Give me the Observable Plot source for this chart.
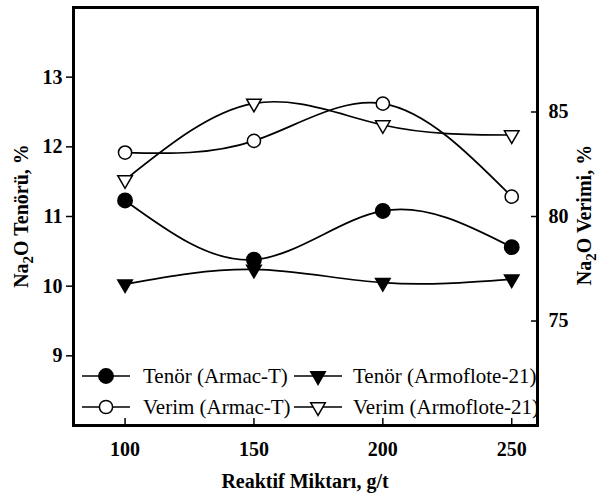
<!DOCTYPE html>
<html><head><meta charset="utf-8">
<script src="https://cdn.jsdelivr.net/npm/d3@7"></script>
<script src="https://cdn.jsdelivr.net/npm/@observablehq/plot@0.6"></script>
<style>
html,body{margin:0;padding:0;background:#fff}
#chart{position:relative;width:599px;height:497px}
</style>
</head><body><div id="chart"></div>
<script>
// ---- data ----
const doses = [100, 150, 200, 250];
const tenorArmac = [11.23, 10.38, 11.08, 10.56];
const tenorArmoflote = [10.03, 10.24, 10.05, 10.10];
const verimArmac = [83.06, 83.62, 85.40, 80.95];
const verimArmoflote = [81.75, 85.41, 84.38, 83.90];
const seriesNames = ["Tenör (Armac-T)", "Verim (Armac-T)", "Tenör (Armoflote-21)", "Verim (Armoflote-21)"];
const xTicks = [100, 150, 200, 250];
const leftTicks = [9, 10, 11, 12, 13];
const rightTicks = [75, 80, 85];
const xDomain = [80, 260];
const leftDomain = [8, 14];
const rightDomain = [70, 90];
const xLabel = "Reaktif Miktarı, g/t";
const leftLabel = ["Na", "2", "O Tenörü, %"];
const rightLabel = ["Na", "2", "O Verimi, %"];

// ---- helpers ----
const toLeft = v => leftDomain[0] + (v - rightDomain[0]) * (leftDomain[1] - leftDomain[0]) / (rightDomain[1] - rightDomain[0]);
const fromLeft = v => rightDomain[0] + (v - leftDomain[0]) * (rightDomain[1] - rightDomain[0]) / (leftDomain[1] - leftDomain[0]);

const triangleDown = {
  draw(context, size) {
    const y = -Math.sqrt(size / (Math.sqrt(3) * 3));
    context.moveTo(0, -2 * y);
    context.lineTo(Math.sqrt(3) * y, y);
    context.lineTo(-Math.sqrt(3) * y, y);
    context.closePath();
  }
};

const series = [
  {name: seriesNames[0], values: tenorArmac, right: false, symbol: "circle", fill: "black", r: 7.2},
  {name: seriesNames[1], values: verimArmac, right: true, symbol: "circle", fill: "white", r: 6.6},
  {name: seriesNames[2], values: tenorArmoflote, right: false, symbol: triangleDown, fill: "black", r: 5.4},
  {name: seriesNames[3], values: verimArmoflote, right: true, symbol: triangleDown, fill: "white", r: 5.4}
];
const rows = series.map(s => doses.map((d, i) => ({dose: d, y: s.right ? toLeft(s.values[i]) : s.values[i]})));

const FONT = "'Liberation Serif', 'Times New Roman', Times, serif";

const marks = [];
series.forEach((s, k) => {
  marks.push(Plot.line(rows[k], {x: "dose", y: "y", curve: "natural", stroke: "black", strokeWidth: 1.7}));
});
series.forEach((s, k) => {
  marks.push(Plot.dot(rows[k], {x: "dose", y: "y", r: s.r, symbol: s.symbol, fill: s.fill, stroke: "black", strokeWidth: 1.5}));
});
marks.push(
  Plot.axisY(leftTicks, {anchor: "left", tickSize: 7, tickPadding: 4, label: null, tickFormat: d => String(d), fontSize: 20, fontWeight: "bold", strokeWidth: 1.5}),
  Plot.axisY(rightTicks.map(toLeft), {anchor: "right", tickSize: -7, tickPadding: 18, label: null, tickFormat: d => String(Math.round(fromLeft(d))), fontSize: 20, fontWeight: "bold", strokeWidth: 1.5}),
  Plot.axisX(xTicks, {anchor: "bottom", tickSize: -7, tickPadding: 23, label: null, tickFormat: d => String(d), fontSize: 20, fontWeight: "bold", strokeWidth: 1.5}),
  Plot.frame({stroke: "black", strokeWidth: 3})
);

const plot = Plot.plot({
  width: 599,
  height: 497,
  marginLeft: 73,
  marginRight: 62,
  marginTop: 7,
  marginBottom: 72,
  x: {domain: xDomain, axis: null},
  y: {domain: leftDomain, axis: null},
  style: {fontFamily: FONT, fontSize: "20px", color: "black", background: "white"},
  marks
});
document.getElementById("chart").appendChild(plot);

const svg = d3.select(plot);

// axis titles
function rotatedLabel(parts, x, y) {
  const t = svg.append("text")
    .attr("transform", `translate(${x},${y}) rotate(-90)`)
    .attr("text-anchor", "middle")
    .attr("font-family", FONT).attr("font-size", 20).attr("font-weight", "bold").attr("fill", "black");
  t.append("tspan").text(parts[0]);
  t.append("tspan").attr("font-size", 15).attr("dy", 5).text(parts[1]);
  t.append("tspan").attr("dy", -5).text(parts[2]);
}
rotatedLabel(leftLabel, 28, 216);
rotatedLabel(rightLabel, 591, 215);
svg.append("text")
  .attr("x", 305).attr("y", 488)
  .attr("text-anchor", "middle")
  .attr("font-family", FONT).attr("font-size", 20).attr("font-weight", "bold").attr("fill", "black")
  .text(xLabel);

// legend
const legendCols = [{sx: 106, tx: 143}, {sx: 318, tx: 353}];
const legendRows = [376, 407];
const order = [0, 1, 2, 3];
const lg = svg.append("g");
order.forEach((k, i) => {
  const s = series[k];
  const col = legendCols[Math.floor(i / 2)];
  const yy = legendRows[i % 2];
  lg.append("line").attr("x1", col.sx - 24).attr("x2", col.sx + 24).attr("y1", yy).attr("y2", yy)
    .attr("stroke", "black").attr("stroke-width", 1.7);
  const type = s.symbol === "circle" ? d3.symbolCircle : triangleDown;
  lg.append("path").attr("transform", `translate(${col.sx},${yy})`)
    .attr("d", d3.symbol(type, Math.PI * s.r * s.r)())
    .attr("fill", s.fill).attr("stroke", "black").attr("stroke-width", 1.5);
  lg.append("text").attr("x", col.tx).attr("y", yy + 7)
    .attr("text-anchor", "start")
    .attr("font-family", FONT).attr("font-size", 21).attr("font-weight", "normal").attr("fill", "black")
    .text(s.name);
});
</script>
</body></html>
